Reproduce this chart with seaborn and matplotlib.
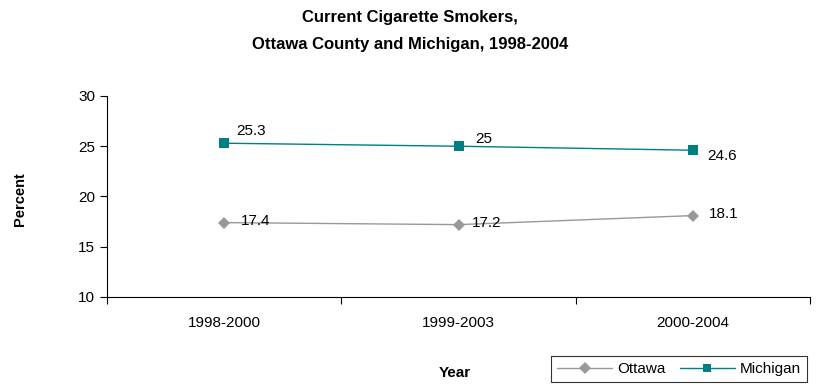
import pandas as pd
import seaborn as sns
import matplotlib.pyplot as plt

# datos
years = ['1998-2000', '1999-2003', '2000-2004']
ottawa = [17.4, 17.2, 18.1]
michigan = [25.3, 25.0, 24.6]
michigan_labels = ['25.3', '25', '24.6']
ottawa_labels = ['17.4', '17.2', '18.1']

df = pd.DataFrame({
    'Year': years * 2,
    'Percent': ottawa + michigan,
    'Area': ['Ottawa'] * 3 + ['Michigan'] * 3,
})

sns.set_style('white')
plt.rcParams['font.family'] = ['Liberation Sans', 'DejaVu Sans']
plt.rcParams['text.color'] = 'black'
plt.rcParams['xtick.color'] = 'black'
plt.rcParams['ytick.color'] = 'black'

gray = '#999999'
teal = '#008080'

fig = plt.figure(figsize=(8.2, 3.87), dpi=100)
ax = fig.add_axes([0.1305, 0.2326, 0.8575, 0.5194])

sns.lineplot(data=df, x='Year', y='Percent', hue='Area', style='Area',
             palette={'Ottawa': gray, 'Michigan': teal},
             markers={'Ottawa': 'D', 'Michigan': 's'}, dashes=False,
             markersize=6.5, markeredgewidth=0, linewidth=1.0, ax=ax, legend=False)

ax.set_xlim(-0.5, 2.5)
ax.set_ylim(10, 30)
ax.set_yticks([10, 15, 20, 25, 30])
ax.set_xticks([0, 1, 2])
ax.set_xticklabels(years)
ax.set_xticks([-0.5, 0.5, 1.5, 2.5], minor=True)
ax.tick_params(axis='x', which='major', length=0, pad=14, labelsize=11)
ax.tick_params(axis='x', which='minor', bottom=True, length=5, width=0.8, direction='out')
ax.tick_params(axis='y', length=5, width=0.8, direction='out', left=True, labelsize=11)

for s in ['top', 'right']:
    ax.spines[s].set_visible(False)
for s in ['left', 'bottom']:
    ax.spines[s].set_color('black')
    ax.spines[s].set_linewidth(0.8)

# etiquetas de datos
offsets_m = [(9, 9), (12, 5), (10, -4)]
offsets_o = [(12, 1.5), (9.5, 1), (11.5, 1)]
for i in range(3):
    ax.annotate(michigan_labels[i], (i, michigan[i]), xytext=offsets_m[i],
                textcoords='offset points', fontsize=11, va='center')
    ax.annotate(ottawa_labels[i], (i, ottawa[i]), xytext=offsets_o[i],
                textcoords='offset points', fontsize=11, va='center')

ax.set_xlabel('')
ax.set_ylabel('')
fig.text(0.024, 0.486, 'Percent', rotation=90, fontsize=10.5, fontweight='bold',
         ha='center', va='center')
fig.text(0.555, 0.036, 'Year', fontsize=11, fontweight='bold', ha='center', va='center')
fig.text(0.5, 0.955, 'Current Cigarette Smokers,', fontsize=12, fontweight='bold',
         ha='center', va='center')
fig.text(0.5, 0.885, 'Ottawa County and Michigan, 1998-2004', fontsize=12,
         fontweight='bold', ha='center', va='center')

# leyenda
handles = [plt.Line2D([], [], color=gray, marker='D', markersize=6, markeredgewidth=0, lw=1.0),
           plt.Line2D([], [], color=teal, marker='s', markersize=6, markeredgewidth=0, lw=1.0)]
leg = fig.legend(handles, ['Ottawa', 'Michigan'], loc='center', bbox_to_anchor=(0.8285, 0.0465),
                 ncol=2, frameon=True, fancybox=False, fontsize=11, handlelength=3.6,
                 columnspacing=0.9, handletextpad=0.35, borderpad=0.4, borderaxespad=0)
leg.get_frame().set_edgecolor('black')
leg.get_frame().set_linewidth(0.8)

fig.savefig('out.png', dpi=100)
